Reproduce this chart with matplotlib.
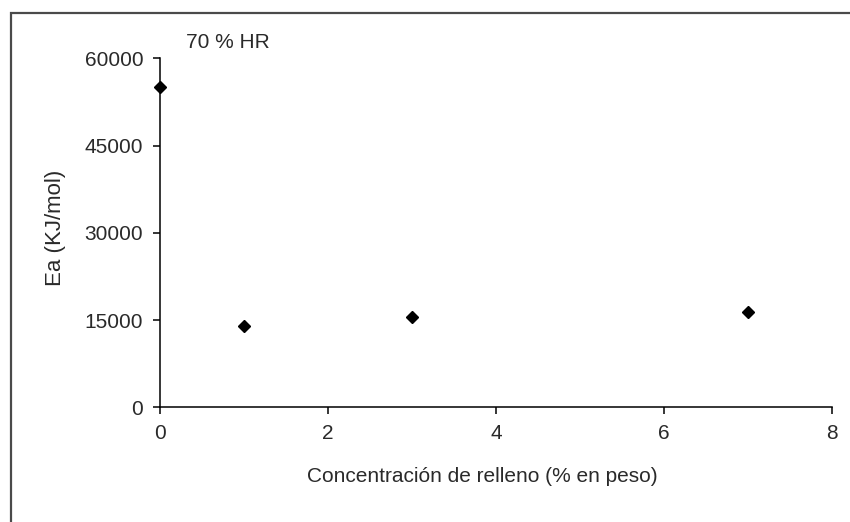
import matplotlib
matplotlib.use("Agg")
import matplotlib.pyplot as plt
from matplotlib.patches import Rectangle

plt.rcParams['font.family'] = ['Liberation Sans', 'DejaVu Sans']

# energía de activación frente a concentración de relleno (70 % HR)
concentracion = [0, 1, 3, 7]
ea = [55000, 14000, 15600, 16400]

x_ticks = [0, 2, 4, 6, 8]
y_ticks = [0, 15000, 30000, 45000, 60000]

W, H = 850, 522
fig = plt.figure(figsize=(W / 100, H / 100), dpi=100)
ax = fig.add_axes([160 / W, 1 - 407.3 / H, (831.7 - 160) / W, (407.3 - 58.3) / H])

ax.plot(concentracion, ea, linestyle='none', marker='D', markersize=6.5,
        color='black', clip_on=False, zorder=3)

ax.set_xlim(0, 8)
ax.set_ylim(0, 60000)
ax.set_xticks(x_ticks)
ax.set_yticks(y_ticks)
ax.tick_params(direction='out', length=5, width=1.1, labelsize=15,
               colors='black', labelcolor='#2a2a2a', pad=7)

for s in ['top', 'right']:
    ax.spines[s].set_visible(False)
for s in ['left', 'bottom']:
    ax.spines[s].set_linewidth(1.1)

fig.text(55 / W, 1 - 228 / H, 'Ea (KJ/mol)', rotation=90, ha='center', va='center',
         fontsize=16, color='#2a2a2a')
fig.text(482 / W, 1 - 477 / H, 'Concentración de relleno (% en peso)', ha='center',
         va='center', fontsize=15, color='#2a2a2a')
fig.text(186 / W, 1 - 42 / H, '70 % HR', ha='left', va='center',
         fontsize=15, color='#2a2a2a')

# marco exterior del gráfico
fig.patches.append(Rectangle((11 / W, -0.1), 1.2, 1 - 13 / H + 0.1,
                             transform=fig.transFigure, fill=False,
                             edgecolor='#4a4a4a', linewidth=1.6))

fig.savefig('out.png', dpi=100)
